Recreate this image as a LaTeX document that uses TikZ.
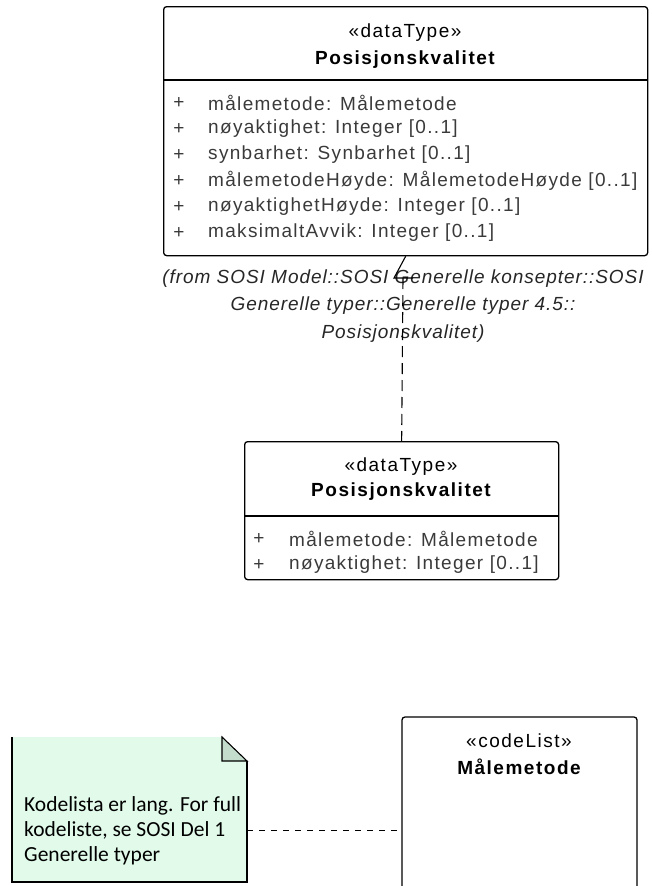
\documentclass[tikz,border=0pt]{standalone}
\usepackage{fontspec}
\setmainfont{Liberation Sans}
\newfontfamily\umlfont[LetterSpace=8]{Liberation Sans}
\newfontfamily\attrfont[LetterSpace=7]{Liberation Sans}
\newfontfamily\fromfont[LetterSpace=5]{Liberation Sans}
\newfontfamily\notefont{Carlito}
\usetikzlibrary{calc}
\definecolor{notebg}{HTML}{E1FAEA}
\definecolor{notefold}{HTML}{C3DCCB}
\definecolor{attrtext}{HTML}{3A3A3A}
\tikzset{
  classbox/.style={draw=black, line width=1.3pt, rounded corners=3pt, inner sep=0pt, anchor=north west},
  divider/.style={draw=black, line width=1.3pt},
  stereo/.style={font=\umlfont\fontsize{19}{22}\selectfont},
  cname/.style={font=\umlfont\fontsize{19}{22}\selectfont\bfseries},
  attr/.style={text=attrtext, font=\attrfont\fontsize{19}{22}\selectfont, anchor=west, inner sep=0pt},
  plus/.style={text=attrtext, font=\attrfont\fontsize{19}{22}\selectfont, inner sep=0pt},
  fromlbl/.style={font=\fromfont\fontsize{19}{27.5}\selectfont\itshape, align=center, text=black!85},
  dep/.style={draw=black, line width=1.1pt, dash pattern=on 11pt off 6pt},
  notelink/.style={draw=black, line width=1pt, dash pattern=on 6pt off 6pt},
  notetext/.style={font=\notefont\fontsize{21.5}{25}\selectfont, align=left, anchor=west, inner sep=0pt},
}
\begin{document}
\begin{tikzpicture}[x=1pt, y=-1pt]
  \useasboundingbox (0,0) rectangle (652,886);

  % top data type
  \node[classbox, minimum width=484pt, minimum height=249pt] (pos) at (163,6) {};
  \draw[divider] (163,80) -- (647,80);
  \node[stereo] (posst) at (405,33) {«dataType»};
  \node[cname] (posnm) at (405,60) {Posisjonskvalitet};
  \foreach \y/\t in {103/{målemetode: Målemetode},
                     129/{nøyaktighet: Integer [0..1]},
                     155/{synbarhet: Synbarhet [0..1]},
                     181/{målemetodeHøyde: MålemetodeHøyde [0..1]},
                     207/{nøyaktighetHøyde: Integer [0..1]},
                     233/{maksimaltAvvik: Integer [0..1]}}{
    \node[plus] at (179,\y) {+};
    \node[attr] at (208,\y) {\t};
  }

  % local copy
  \node[classbox, minimum width=314pt, minimum height=138pt] (posloc) at (244,441) {};
  \draw[divider] (244,516) -- (558,516);
  \node[stereo] (locst) at (401,467) {«dataType»};
  \node[cname] (locnm) at (401,492) {Posisjonskvalitet};
  \node[plus] at (259,539) {+};
  \node[attr] at (289,539) {målemetode: Målemetode};
  \node[plus] at (259,565) {+};
  \node[attr] at (289,565) {nøyaktighet: Integer [0..1]};

  \node[fromlbl] (from) at (403,306) {(from SOSI Model::SOSI Generelle konsepter::SOSI\\
    Generelle typer::Generelle typer 4.5::\\ Posisjonskvalitet)};
  \coordinate (bend) at (394,278);
  \draw[line width=1.1pt] (pos.south) -- (bend) -- ++(19,0);
  \draw[dep] (403,278) -- (posloc.north);

  % note
  \fill[notebg] (12,737) -- (222,737) -- (247,761) -- (247,882) -- (12,882) -- cycle;
  \draw[line width=1.3pt] (12,737) -- (12,882) -- (247,882) -- (247,761);
  \filldraw[fill=notefold, draw=black, line width=1.1pt] (222,737) -- (222,761) -- (247,761) -- cycle;
  \node[notetext] (note) at (24,831) {Kodelista er lang. For full\\ kodeliste, se SOSI Del 1\\ Generelle typer};
  \coordinate (noteR) at (247,830);

  % code list
  \draw[line width=1.3pt, rounded corners=3pt] (402,900) -- (402,717) -- (637,717) -- (637,900);
  \coordinate (codeL) at (402,830);
  \node[stereo] (codest) at (519,741) {«codeList»};
  \node[cname] (codenm) at (519,767) {Målemetode};

  \draw[notelink] (noteR) -- (codeL);
\end{tikzpicture}
\end{document}
